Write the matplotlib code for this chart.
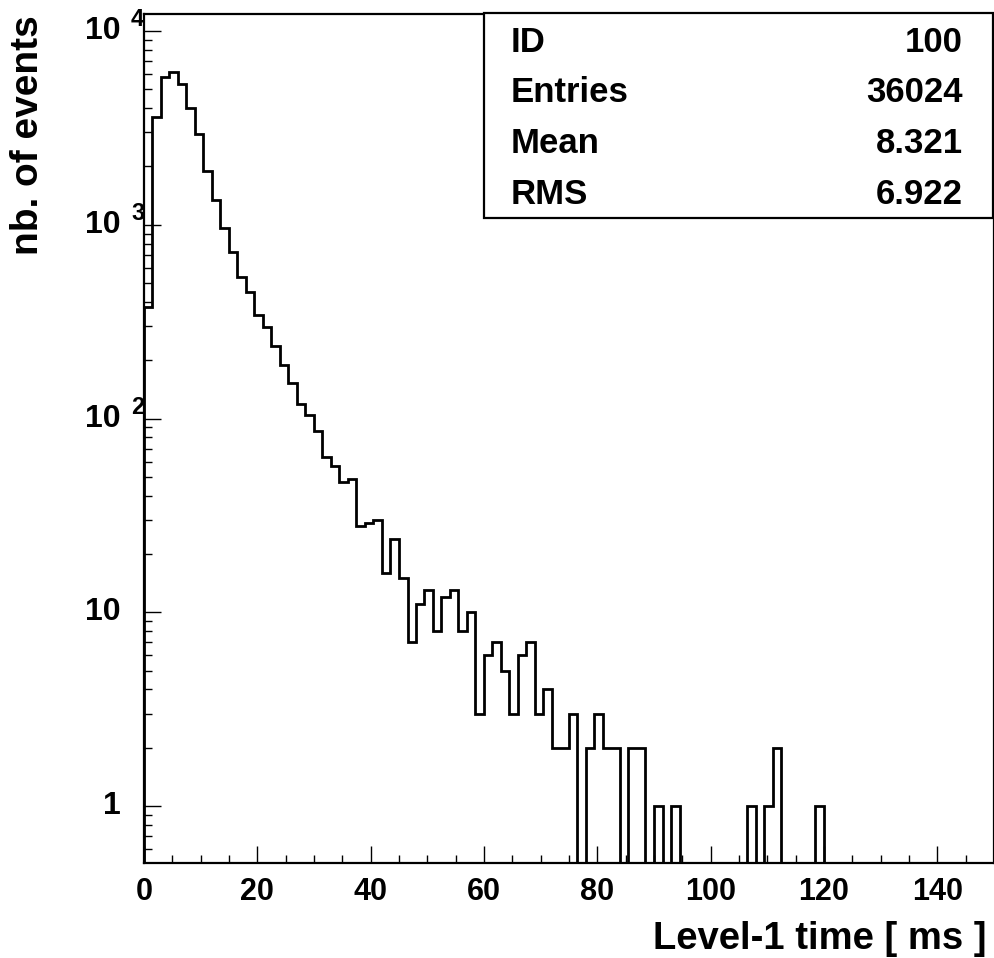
import numpy as np
import matplotlib
matplotlib.use("Agg")
import matplotlib.pyplot as plt
from matplotlib.patches import Rectangle
from matplotlib.ticker import FixedLocator, MultipleLocator, NullFormatter, LogLocator

# histogram: 100 bins of 1.5 ms from 0 to 150
bin_lo = 0.0
bin_hi = 150.0
n_bins = 100
counts = [
    376, 3610, 5810, 6170, 5310, 4020, 2940, 1900, 1342, 958,
    725, 539, 449, 344, 295, 237, 188, 152, 119, 104,
    86, 63, 57, 47, 49, 28, 29, 30, 16, 24,
    15, 7, 11, 13, 8, 12, 13, 8, 10, 3,
    6, 7, 5, 3, 6, 7, 3, 4, 2, 2,
    3, 0, 2, 3, 2, 2, 0, 2, 2, 0,
    1, 0, 1, 0, 0, 0, 0, 0, 0, 0,
    0, 1, 0, 1, 2, 0, 0, 0, 0, 1,
    0, 0, 0, 0, 0, 0, 0, 0, 0, 0,
    0, 0, 0, 0, 0, 0, 0, 0, 0, 0,
]

stat_names = ["ID", "Entries", "Mean", "RMS"]
stat_values = ["100", "36024", "8.321", "6.922"]

xtick_vals = [0, 20, 40, 60, 80, 100, 120, 140]
ytick_vals = [1, 10, 100, 1000, 10000]
ytick_base = ["1", "10", "10", "10", "10"]
ytick_exp = ["", "", "2", "3", "4"]

plt.rcParams["font.family"] = ["Liberation Sans", "DejaVu Sans"]
plt.rcParams["font.weight"] = "bold"

W, H = 995, 958
fig = plt.figure(figsize=(W / 100, H / 100), dpi=100)

# axes frame in pixels (left, top, right, bottom)
L, T, R, B = 144, 13.5, 994, 863.3
ax = fig.add_axes([L / W, 1 - B / H, (R - L) / W, (B - T) / H])

edges = np.linspace(bin_lo, bin_hi, n_bins + 1)
ax.stairs(np.array(counts, dtype=float), edges, color="black", lw=2.0)

ax.set_yscale("log")
ax.set_xlim(bin_lo, bin_hi)
ax.set_ylim(0.507, 12300)

for s in ax.spines.values():
    s.set_linewidth(1.6)

ax.xaxis.set_major_locator(FixedLocator(xtick_vals))
ax.xaxis.set_minor_locator(MultipleLocator(5))
ax.yaxis.set_major_locator(FixedLocator(ytick_vals))
ax.yaxis.set_minor_locator(LogLocator(base=10, subs=np.arange(2, 10)))
ax.yaxis.set_major_formatter(NullFormatter())
ax.yaxis.set_minor_formatter(NullFormatter())
ax.tick_params(which="both", direction="in", top=False, right=False, width=1.0)
ax.tick_params(which="major", length=12)
ax.tick_params(which="minor", length=6)
ax.tick_params(axis="x", which="major", labelsize=22, pad=10)
for lab in ax.get_xticklabels():
    lab.set_fontweight("bold")

# ROOT-style y labels: "10" with detached exponent
ytr = matplotlib.transforms.blended_transform_factory(fig.transFigure, ax.transData)
for v, b, e in zip(ytick_vals, ytick_base, ytick_exp):
    ax.text(121 / W, v, b, transform=ytr, ha="right", va="center",
            fontsize=23, fontweight="bold")
    if e:
        ax.text(131 / W, v * 10 ** (11 / 194), e, transform=ytr, ha="left",
                va="center", fontsize=17, fontweight="bold")

fig.text(28 / W, 1 - 15 / H, "nb. of events", rotation=90, ha="center", va="top",
         fontsize=28, fontweight="bold")
fig.text(987 / W, 1 - 949 / H, "Level-1 time [ ms ]", ha="right", va="baseline",
         fontsize=27.5, fontweight="bold")

# statistics box
bx0, by0, bx1, by1 = 484, 12.7, 993.3, 218.3
box = Rectangle((bx0 / W, 1 - by1 / H), (bx1 - bx0) / W, (by1 - by0) / H,
                transform=fig.transFigure, facecolor="white", edgecolor="black",
                lw=1.6, zorder=5)
fig.patches.append(box)
for i, (nm, val) in enumerate(zip(stat_names, stat_values)):
    yb = 1 - (52 + 50.5 * i) / H
    fig.text(511 / W, yb, nm, ha="left", va="baseline", fontsize=25,
             fontweight="bold", zorder=6)
    fig.text(963 / W, yb, val, ha="right", va="baseline", fontsize=25,
             fontweight="bold", zorder=6)

fig.savefig("out.png", dpi=100)
